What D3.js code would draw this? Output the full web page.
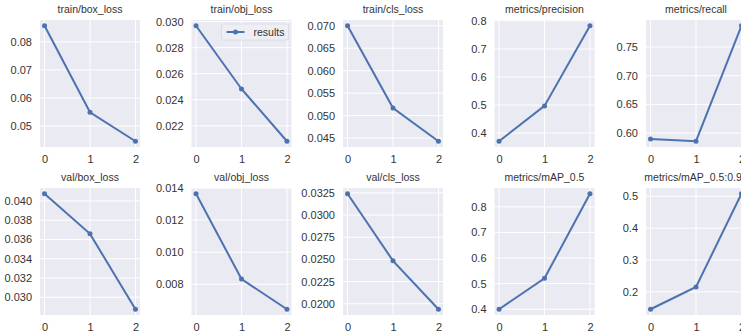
<!DOCTYPE html>
<html>
<head>
<meta charset="utf-8">
<script src="https://cdn.jsdelivr.net/npm/d3@7"></script>
<style>
  body { margin: 0; background: #fff; }
  svg { display: block; font-family: "Liberation Sans", Arial, sans-serif; }
</style>
</head>
<body>
<div id="plot"></div>
<script>
// epochs
var epochs = [0, 1, 2];

// series values
var trainBoxLoss = [0.0857, 0.0549, 0.0446];
var trainObjLoss = [0.02968, 0.02483, 0.02082];
var trainClsLoss = [0.0700, 0.0517, 0.0443];
var precision    = [0.371, 0.497, 0.7825];
var recall       = [0.5898, 0.5859, 0.7869];
var valBoxLoss   = [0.04074, 0.03658, 0.02876];
var valObjLoss   = [0.01364, 0.00832, 0.00644];
var valClsLoss   = [0.0324, 0.02484, 0.01938];
var mAP50        = [0.400, 0.5207, 0.851];
var mAP5095      = [0.1455, 0.2154, 0.508];

var titles = ["train/box_loss", "train/obj_loss", "train/cls_loss", "metrics/precision", "metrics/recall",
              "val/box_loss", "val/obj_loss", "val/cls_loss", "metrics/mAP_0.5", "metrics/mAP_0.5:0.95"];

// y tick labels per panel
var yTicks = [
    ["0.05", "0.06", "0.07", "0.08"],
    ["0.022", "0.024", "0.026", "0.028", "0.030"],
    ["0.045", "0.050", "0.055", "0.060", "0.065", "0.070"],
    ["0.4", "0.5", "0.6", "0.7", "0.8"],
    ["0.60", "0.65", "0.70", "0.75"],
    ["0.030", "0.032", "0.034", "0.036", "0.038", "0.040"],
    ["0.008", "0.010", "0.012", "0.014"],
    ["0.0200", "0.0225", "0.0250", "0.0275", "0.0300", "0.0325"],
    ["0.4", "0.5", "0.6", "0.7", "0.8"],
    ["0.2", "0.3", "0.4", "0.5"]
];
var xTicks = ["0", "1", "2"];

var series = [trainBoxLoss, trainObjLoss, trainClsLoss, precision, recall,
              valBoxLoss, valObjLoss, valClsLoss, mAP50, mAP5095];

var width = 741, height = 336;
var plotW = 100, plotH = 127;
var lineColor = "#4c72b0";
var textColor = "#333";

var svg = d3.select("#plot").append("svg")
    .attr("width", width)
    .attr("height", height);

series.forEach(function(vals, i){
    var col = i % 5, row = Math.floor(i / 5);
    var left = 40 + col * 151.5;
    var top = row == 0 ? 20 : 188;

    var g = svg.append("g").attr("transform", "translate(" + left + "," + top + ")");

    var xScale = d3.scaleLinear().domain([-0.1, 2.1]).range([0, plotW]);
    var ext = d3.extent(vals);
    var pad = (ext[1] - ext[0]) * 0.05;
    var yScale = d3.scaleLinear().domain([ext[0] - pad, ext[1] + pad]).range([plotH, 0]);

    g.append("rect")
        .attr("width", plotW)
        .attr("height", plotH)
        .attr("fill", "#eaeaf2");

    var tickNums = yTicks[i].map(Number);

    // grid
    g.selectAll(".hgrid").data(tickNums).enter().append("line")
        .attr("x1", 0).attr("x2", plotW)
        .attr("y1", d => yScale(d)).attr("y2", d => yScale(d))
        .attr("stroke", "#fff").attr("stroke-width", 1);
    g.selectAll(".vgrid").data(xTicks.map(Number)).enter().append("line")
        .attr("y1", 0).attr("y2", plotH)
        .attr("x1", d => xScale(d)).attr("x2", d => xScale(d))
        .attr("stroke", "#fff").attr("stroke-width", 1);

    // axes
    var yAxis = d3.axisLeft(yScale).tickValues(tickNums)
        .tickFormat((d, k) => yTicks[i][k]).tickSize(0).tickPadding(8);
    var xAxis = d3.axisBottom(xScale).tickValues(xTicks.map(Number))
        .tickFormat((d, k) => xTicks[k]).tickSize(0).tickPadding(8);

    var ya = g.append("g").call(yAxis);
    var xa = g.append("g").attr("transform", "translate(0," + plotH + ")").call(xAxis);
    [ya, xa].forEach(function(a){
        a.select(".domain").remove();
        a.selectAll("text").attr("fill", textColor).style("font-size", "11px")
            .style("font-family", "'Liberation Sans', Arial, sans-serif");
    });

    // title
    g.append("text")
        .attr("x", plotW / 2)
        .attr("y", -7)
        .attr("text-anchor", "middle")
        .attr("fill", textColor)
        .style("font-size", "10.5px")
        .text(titles[i]);

    // line and markers
    var line = d3.line().x((d, k) => xScale(epochs[k])).y(d => yScale(d));
    g.append("path").datum(vals)
        .attr("d", line)
        .attr("fill", "none")
        .attr("stroke", lineColor)
        .attr("stroke-width", 2);
    g.selectAll(".pt").data(vals).enter().append("circle")
        .attr("cx", (d, k) => xScale(epochs[k]))
        .attr("cy", d => yScale(d))
        .attr("r", 2.5)
        .attr("fill", lineColor);

    // legend in the second panel
    if (i == 1){
        var lg = g.append("g").attr("transform", "translate(" + (plotW - 70) + ",4)");
        lg.append("rect")
            .attr("width", 67).attr("height", 16).attr("rx", 2)
            .attr("fill", "#eeeef5").attr("stroke", "#d8d8e0").attr("stroke-width", 0.8);
        lg.append("line").attr("x1", 5).attr("x2", 23).attr("y1", 8).attr("y2", 8)
            .attr("stroke", lineColor).attr("stroke-width", 2);
        lg.append("circle").attr("cx", 14).attr("cy", 8).attr("r", 2.5).attr("fill", lineColor);
        lg.append("text").attr("x", 32).attr("y", 11.5)
            .attr("fill", textColor).style("font-size", "10.5px").text("results");
    }
});
</script>
</body>
</html>
